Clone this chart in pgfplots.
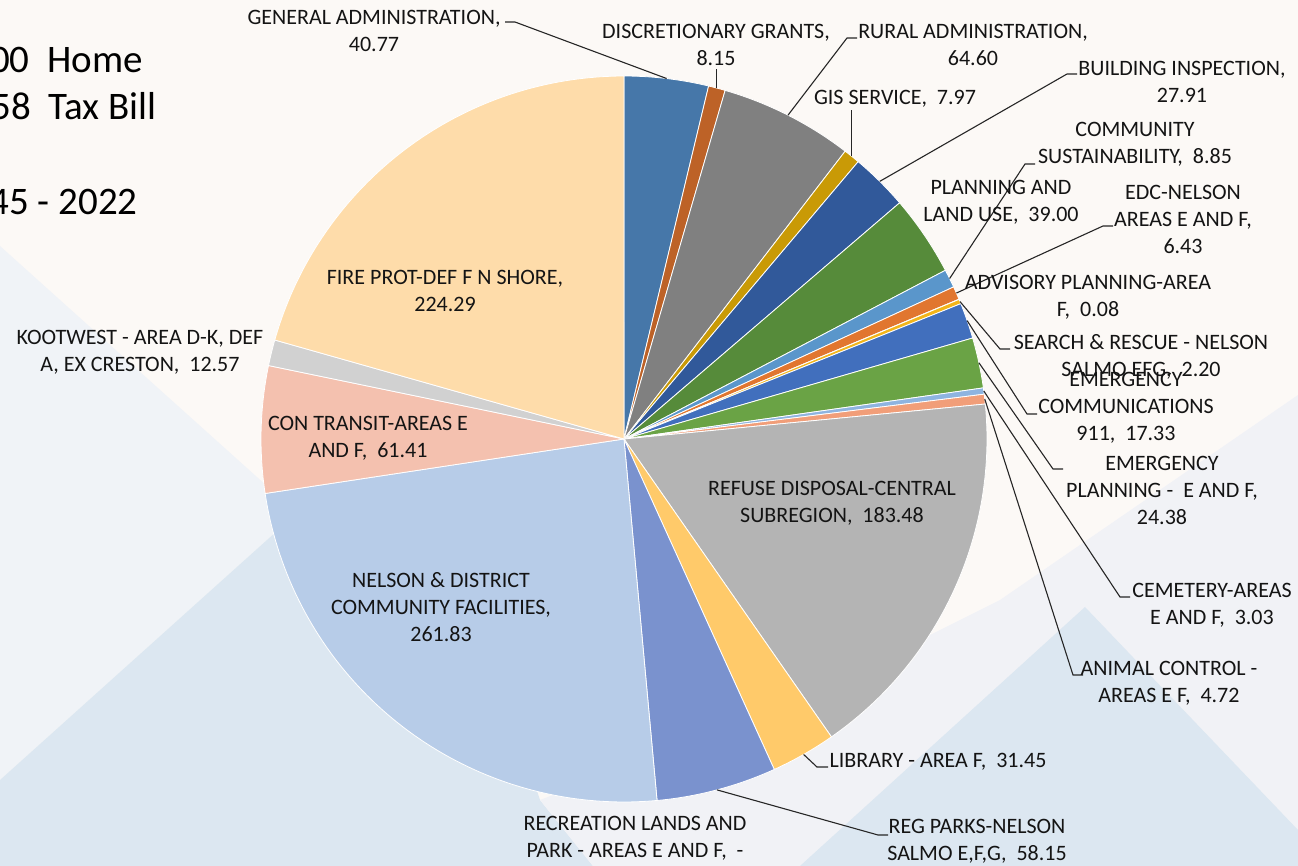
\documentclass[border=0pt]{standalone}
\usepackage{pgfplots}
\pgfplotsset{compat=1.18}
\usepackage{pgfplotstable}
\usepackage{fontspec}
\setmainfont{Carlito}

\definecolor{txt}{HTML}{141414}
\definecolor{bgcream}{HTML}{FCF9F6}
\definecolor{bgleft}{HTML}{F0F3F7}
\definecolor{bgblue}{HTML}{DCE7F1}
\definecolor{bggrey}{HTML}{F1F2F6}

% slice colours, clockwise from 12 o'clock
\definecolor{s0}{HTML}{4677A9}
\definecolor{s1}{HTML}{BD6227}
\definecolor{s2}{HTML}{808080}
\definecolor{s3}{HTML}{C99A06}
\definecolor{s4}{HTML}{31599A}
\definecolor{s5}{HTML}{568B3A}
\definecolor{s6}{HTML}{5A96CB}
\definecolor{s7}{HTML}{E1762F}
\definecolor{s8}{HTML}{A5A5A5}
\definecolor{s9}{HTML}{F2B51A}
\definecolor{s10}{HTML}{416FBD}
\definecolor{s11}{HTML}{6AA345}
\definecolor{s12}{HTML}{8EB4E0}
\definecolor{s13}{HTML}{F19E79}
\definecolor{s14}{HTML}{B4B4B4}
\definecolor{s15}{HTML}{FFCA6A}
\definecolor{s16}{HTML}{7A92CE}
\definecolor{s17}{HTML}{9E480E}
\definecolor{s18}{HTML}{B7CCE8}
\definecolor{s19}{HTML}{F4C1AF}
\definecolor{s20}{HTML}{D1D1D1}
\definecolor{s21}{HTML}{FEDCAA}

% tax per service, same order as the colours
\pgfplotstableread{
val
40.77
8.15
64.60
7.97
27.91
39.00
8.85
6.43
0.08
2.20
17.33
24.38
3.03
4.72
183.48
31.45
58.15
0
261.83
61.41
12.57
224.29
}\piedata

% angles (clockwise from top) and arc midpoints, in picture pixels
\def\cx{624}\def\cy{439}\def\rad{363}
\pgfplotstablegetrowsof{\piedata}
\pgfmathtruncatemacro\lastrow{\pgfplotsretval-1}
\def\total{0}
\pgfplotsforeachungrouped \i in {0,...,\lastrow}{%
  \pgfplotstablegetelem{\i}{val}\of\piedata
  \pgfmathsetmacro\total{\total+\pgfplotsretval}}
\def\cum{0}
\pgfplotsforeachungrouped \i in {0,...,\lastrow}{%
  \pgfplotstablegetelem{\i}{val}\of\piedata
  \let\curval\pgfplotsretval
  \pgfmathsetmacro\angA{\cum/\total*360}
  \pgfmathsetmacro\cum{\cum+\curval}
  \pgfmathsetmacro\angB{\cum/\total*360}
  \pgfmathsetmacro\angM{(\angA+\angB)/2}
  \pgfmathsetmacro\midX{\cx+\rad*sin(\angM)}
  \pgfmathsetmacro\midY{\cy-\rad*cos(\angM)}
  \expandafter\xdef\csname ta\i\endcsname{\angA}
  \expandafter\xdef\csname tb\i\endcsname{\angB}
  \expandafter\xdef\csname mx\i\endcsname{\midX}
  \expandafter\xdef\csname my\i\endcsname{\midY}}

\newcommand\leader[5]{\draw[ldr] (axis cs:\csname mx#1\endcsname,\csname my#1\endcsname)
  -- (axis cs:#2,#3) -- (axis cs:#4,#5);}

\begin{document}
\begin{tikzpicture}[
  lbl/.style={align=center, text=txt, inner sep=0pt,
    font=\fontsize{11}{13.5}\selectfont},
  big/.style={anchor=base east, inner sep=0pt, text=black,
    font=\fontsize{19.5}{23}\selectfont},
  ldr/.style={draw=black!85, line width=0.55pt}]
\begin{axis}[at={(0,0)}, anchor=south west, scale only axis,
  width=649pt, height=433pt,
  xmin=0, xmax=1298, ymin=0, ymax=866, y dir=reverse,
  hide axis, clip=false]

% slide background
\fill[bgcream] (axis cs:0,0) rectangle (axis cs:1298,866);
\fill[bgleft] (axis cs:0,246) -- (axis cs:297,513) -- (axis cs:0,780) -- cycle;
\fill[bgblue] (axis cs:0,866) -- (axis cs:0,780) -- (axis cs:297,513) -- (axis cs:450,375)
  -- (axis cs:500,680) -- (axis cs:540,800) -- (axis cs:593,866) -- cycle;
\fill[bggrey] (axis cs:593,866) -- (axis cs:540,800) -- (axis cs:800,700) -- (axis cs:1000,600)
  -- (axis cs:1298,395) -- (axis cs:1298,866) -- cycle;
\fill[bgblue] (axis cs:1085,607) -- (axis cs:1298,830) -- (axis cs:1298,866)
  -- (axis cs:800,866) -- cycle;

% pie slices
\pgfplotsinvokeforeach{0,...,21}{%
  \ifdim\csname tb#1\endcsname pt>\csname ta#1\endcsname pt
  \addplot[draw=white, line width=0.4pt, fill=s#1,
    domain=\csname ta#1\endcsname:\csname tb#1\endcsname, samples=80]
    ({\cx+\rad*sin(x)},{\cy-\rad*cos(x)}) -- (axis cs:\cx,\cy) -- cycle;
  \fi
}

% leader lines
\leader{0}{515}{22}{505}{22}
\draw[ldr] (axis cs:\csname mx1\endcsname,\csname my1\endcsname) -- (axis cs:\csname mx1\endcsname,69);
\leader{2}{847}{38}{857}{38}
\draw[ldr] (axis cs:\csname mx3\endcsname,\csname my3\endcsname) -- (axis cs:\csname mx3\endcsname,110);
\leader{4}{1067}{74}{1077}{74}
\leader{6}{1025}{164}{1035}{164}
\leader{7}{1103}{226}{1113}{226}
\leader{9}{1000}{349}{1010}{349}
\leader{10}{1027}{414}{1037}{414}
\leader{11}{1053}{469}{1063}{469}
\leader{12}{1120}{597}{1130}{597}
\leader{13}{1073}{675}{1083}{675}
\leader{15}{817}{767}{828}{767}
\leader{16}{878}{835}{888}{835}

% data labels
\node[lbl] at (axis cs:374,31) {GENERAL ADMINISTRATION,\\40.77};
\node[lbl] at (axis cs:716,45) {DISCRETIONARY GRANTS,\\8.15};
\node[lbl] at (axis cs:973,45) {RURAL ADMINISTRATION,\\64.60};
\node[lbl] at (axis cs:895,99) {GIS SERVICE,~~7.97};
\node[lbl] at (axis cs:1182,82) {BUILDING INSPECTION,\\27.91};
\node[lbl] at (axis cs:1135,144) {COMMUNITY\\SUSTAINABILITY,~~8.85};
\node[lbl] at (axis cs:1001,202) {PLANNING AND\\LAND USE,~~39.00};
\node[lbl] at (axis cs:1183,219) {EDC-NELSON\\AREAS E AND F,\\6.43};
\node[lbl] at (axis cs:1088,297) {ADVISORY PLANNING-AREA\\F,~~0.08};
\node[lbl] at (axis cs:1141,357) {SEARCH \& RESCUE - NELSON\\SALMO EFG,~~2.20};
\node[lbl] at (axis cs:1126,408) {EMERGENCY\\COMMUNICATIONS\\911,~~17.33};
\node[lbl] at (axis cs:1162,490) {EMERGENCY\\PLANNING -~~E AND F,\\24.38};
\node[lbl] at (axis cs:1212,605) {CEMETERY-AREAS\\E AND F,~~3.03};
\node[lbl] at (axis cs:1169,683) {ANIMAL CONTROL -\\AREAS E F,~~4.72};
\node[lbl] at (axis cs:832,503) {REFUSE DISPOSAL-CENTRAL\\SUBREGION,~~183.48};
\node[lbl] at (axis cs:938,762) {LIBRARY - AREA F,~~31.45};
\node[lbl] at (axis cs:977,841) {REG PARKS-NELSON\\SALMO E,F,G,~~58.15};
\node[lbl] at (axis cs:635,838) {RECREATION LANDS AND\\PARK - AREAS E AND F,~~-};
\node[lbl] at (axis cs:441,607) {NELSON \& DISTRICT\\COMMUNITY FACILITIES,\\261.83};
\node[lbl] at (axis cs:368,438) {CON TRANSIT-AREAS E\\AND F,~~61.41};
\node[lbl] at (axis cs:140,352) {KOOTWEST - AREA D-K, DEF\\A, EX CRESTON,~~12.57};
\node[lbl] at (axis cs:445,291) {FIRE PROT-DEF F N SHORE,\\224.29};

% slide text cut off at the left edge
\node[big] at (axis cs:143,73) {00~~Home};
\node[big] at (axis cs:157,120) {58~~Tax Bill};
\node[big] at (axis cs:138,215) {45 - 2022};
\end{axis}
\pgfresetboundingbox
\path (0,0) rectangle (649pt,433pt);
\end{tikzpicture}
\end{document}
